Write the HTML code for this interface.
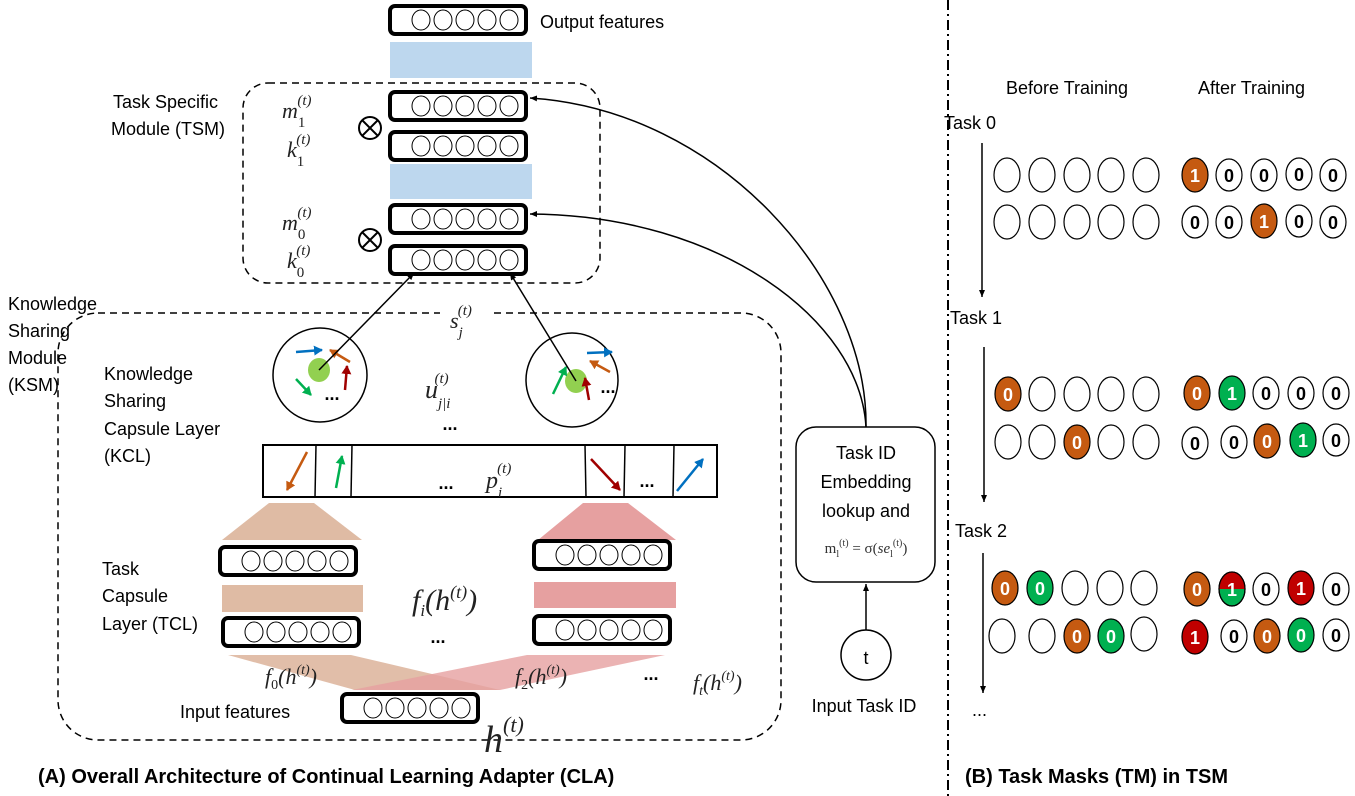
<!DOCTYPE html>
<html><head><meta charset="utf-8"><style>
html,body{margin:0;padding:0;background:#fff}
svg{display:block}
.t{font-family:"Liberation Sans",sans-serif;font-size:18px;fill:#000}
.m{font-family:"Liberation Serif",serif;font-style:italic;fill:#222}
.up{font-style:normal}
.cap{font-family:"Liberation Sans",sans-serif;font-size:20px;font-weight:bold}
.n{font-family:"Liberation Sans",sans-serif;font-weight:bold;font-size:18px;text-anchor:middle}
</style></head><body>
<svg width="1355" height="796" viewBox="0 0 1355 796" xmlns="http://www.w3.org/2000/svg">
<defs>
<marker id="ah" markerWidth="8" markerHeight="8" refX="7" refY="4" orient="auto" markerUnits="userSpaceOnUse"><path d="M0,1 L7,4 L0,7 z" fill="#000"/></marker>
<marker id="aO" markerWidth="10" markerHeight="10" refX="8" refY="5" orient="auto" markerUnits="userSpaceOnUse"><path d="M0,0 L9,5 L0,10 z" fill="#c55a11"/></marker>
<marker id="aG" markerWidth="10" markerHeight="10" refX="8" refY="5" orient="auto" markerUnits="userSpaceOnUse"><path d="M0,0 L9,5 L0,10 z" fill="#00b050"/></marker>
<marker id="aR" markerWidth="10" markerHeight="10" refX="8" refY="5" orient="auto" markerUnits="userSpaceOnUse"><path d="M0,0 L9,5 L0,10 z" fill="#a00000"/></marker>
<marker id="aB" markerWidth="10" markerHeight="10" refX="8" refY="5" orient="auto" markerUnits="userSpaceOnUse"><path d="M0,0 L9,5 L0,10 z" fill="#0070c0"/></marker>
<g id="fb">
<rect x="2" y="2" width="136" height="28" rx="5" fill="#fff" stroke="#000" stroke-width="4"/>
<ellipse cx="33" cy="16" rx="9" ry="10" fill="none" stroke="#000"/>
<ellipse cx="55" cy="16" rx="9" ry="10" fill="none" stroke="#000"/>
<ellipse cx="77" cy="16" rx="9" ry="10" fill="none" stroke="#000"/>
<ellipse cx="99" cy="16" rx="9" ry="10" fill="none" stroke="#000"/>
<ellipse cx="121" cy="16" rx="9" ry="10" fill="none" stroke="#000"/>
</g>
</defs>

<!-- TSM -->
<rect x="243" y="83" width="357" height="200" rx="25" fill="none" stroke="#000" stroke-width="1.5" stroke-dasharray="7,5"/>
<rect x="390" y="42" width="142" height="36" fill="#bdd7ee"/>
<rect x="390" y="164" width="142" height="35" fill="#bdd7ee"/>
<use href="#fb" x="388" y="4"/>
<use href="#fb" x="388" y="90"/>
<use href="#fb" x="388" y="130"/>
<use href="#fb" x="388" y="203"/>
<use href="#fb" x="388" y="244"/>
<text class="t" x="540" y="28">Output features</text>
<text class="t" x="113" y="108">Task Specific</text>
<text class="t" x="111" y="135">Module (TSM)</text>
<g stroke="#000" stroke-width="2" fill="none">
<circle cx="370" cy="128" r="11"/><path d="M362,120 L378,136 M378,120 L362,136"/>
<circle cx="370" cy="240" r="11"/><path d="M362,232 L378,248 M378,232 L362,248"/>
</g>
<text class="m" x="282" y="118" font-size="22">m<tspan class="up" font-size="15" dy="9">1</tspan><tspan font-size="15" dx="-8" dy="-22">(t)</tspan></text>
<text class="m" x="287" y="157" font-size="22">k<tspan class="up" font-size="15" dy="9">1</tspan><tspan font-size="15" dx="-8" dy="-22">(t)</tspan></text>
<text class="m" x="282" y="230" font-size="22">m<tspan class="up" font-size="15" dy="9">0</tspan><tspan font-size="15" dx="-8" dy="-22">(t)</tspan></text>
<text class="m" x="287" y="268" font-size="22">k<tspan class="up" font-size="15" dy="9">0</tspan><tspan font-size="15" dx="-8" dy="-22">(t)</tspan></text>

<!-- KSM -->
<rect x="58" y="313" width="723" height="427" rx="40" fill="none" stroke="#000" stroke-width="1.5" stroke-dasharray="7,5"/>
<rect x="440" y="300" width="50" height="30" fill="#fff"/>
<text class="t" x="8" y="310">Knowledge</text>
<text class="t" x="8" y="337">Sharing</text>
<text class="t" x="8" y="364">Module</text>
<text class="t" x="8" y="391">(KSM)</text>
<text class="t" x="104" y="380">Knowledge</text>
<text class="t" x="104" y="407">Sharing</text>
<text class="t" x="104" y="435">Capsule Layer</text>
<text class="t" x="104" y="462">(KCL)</text>
<text class="t" x="102" y="575">Task</text>
<text class="t" x="102" y="602">Capsule</text>
<text class="t" x="102" y="630">Layer (TCL)</text>

<ellipse cx="320" cy="375" rx="47" ry="47" fill="none" stroke="#000" stroke-width="1.5"/>
<ellipse cx="572" cy="380" rx="46" ry="47" fill="none" stroke="#000" stroke-width="1.5"/>
<ellipse cx="319" cy="370" rx="11" ry="12" fill="#92d050"/>
<ellipse cx="576" cy="381" rx="11" ry="12" fill="#92d050"/>
<g stroke-width="2.5" fill="none">
<line x1="296" y1="352" x2="322" y2="350" stroke="#0070c0" marker-end="url(#aB)"/>
<line x1="350" y1="362" x2="330" y2="350" stroke="#c55a11" marker-end="url(#aO)"/>
<line x1="296" y1="379" x2="311" y2="395" stroke="#00b050" marker-end="url(#aG)"/>
<line x1="345" y1="390" x2="347" y2="366" stroke="#a00000" marker-end="url(#aR)"/>
<line x1="553" y1="394" x2="566" y2="367" stroke="#00b050" marker-end="url(#aG)"/>
<line x1="587" y1="353" x2="612" y2="352" stroke="#0070c0" marker-end="url(#aB)"/>
<line x1="610" y1="372" x2="590" y2="361" stroke="#c55a11" marker-end="url(#aO)"/>
<line x1="589" y1="400" x2="585" y2="378" stroke="#a00000" marker-end="url(#aR)"/>
</g>
<text class="n" x="332" y="400" font-size="16">...</text>
<text class="n" x="608" y="393" font-size="16">...</text>
<line x1="319" y1="370" x2="414" y2="273" stroke="#000" stroke-width="1.5" marker-end="url(#ah)"/>
<line x1="576" y1="381" x2="510" y2="273" stroke="#000" stroke-width="1.5" marker-end="url(#ah)"/>
<text class="m" x="450" y="328" font-size="22">s<tspan font-size="15" dy="9">j</tspan><tspan font-size="15" dx="-5" dy="-22">(t)</tspan></text>
<text class="m" x="425" y="398" font-size="26">u<tspan font-size="15" dy="10">j|i</tspan><tspan font-size="15" dx="-16" dy="-25">(t)</tspan></text>
<text class="n" x="450" y="430" font-size="16">...</text>

<rect x="263" y="445" width="454" height="52" fill="#fff" stroke="#000" stroke-width="2"/>
<g stroke="#000" stroke-width="1.5"><line x1="316" y1="445" x2="315" y2="497"/><line x1="352" y1="445" x2="351" y2="497"/><line x1="585" y1="445" x2="586" y2="497"/><line x1="625" y1="445" x2="624" y2="497"/><line x1="674" y1="445" x2="673" y2="497"/></g>
<g stroke-width="2.5" fill="none">
<line x1="307" y1="452" x2="287" y2="490" stroke="#c55a11" marker-end="url(#aO)"/>
<line x1="336" y1="488" x2="342" y2="456" stroke="#00b050" marker-end="url(#aG)"/>
<line x1="591" y1="459" x2="620" y2="490" stroke="#a00000" marker-end="url(#aR)"/>
<line x1="677" y1="491" x2="703" y2="459" stroke="#0070c0" marker-end="url(#aB)"/>
</g>
<text class="n" x="446" y="489" font-size="16">...</text>
<text class="n" x="647" y="487" font-size="16">...</text>
<text class="m" x="486" y="488" font-size="24">p<tspan font-size="15" dy="9">i</tspan><tspan font-size="15" dx="-5" dy="-24">(t)</tspan></text>

<polygon points="269,503 314,503 362,540 222,540" fill="#dfbba4"/>
<polygon points="583,503 628,503 676,540 538,540" fill="#e6a0a0"/>
<rect x="222" y="585" width="141" height="27" fill="#dfbba4"/>
<rect x="534" y="582" width="142" height="26" fill="#e6a0a0"/>
<use href="#fb" x="218" y="545"/>
<use href="#fb" x="221" y="616"/>
<use href="#fb" x="532" y="539"/>
<use href="#fb" x="532" y="614"/>

<polygon points="228,655 351,655 500,690 355,690" fill="#dfbba4" opacity="0.95"/>
<polygon points="527,655 665,655 500,690 352,690" fill="#e6a0a0" opacity="0.8"/>
<use href="#fb" x="340" y="692"/>
<text class="t" x="180" y="718">Input features</text>
<text class="m" x="484" y="752" font-size="38">h<tspan font-size="22" dy="-20">(t)</tspan></text>
<text class="m" x="412" y="610" font-size="30">f<tspan font-size="17" dy="6">i</tspan><tspan dy="-6">(h</tspan><tspan font-size="18" dy="-12">(t)</tspan><tspan dy="12">)</tspan></text>
<text class="n" x="438" y="643" font-size="16">...</text>
<text class="m" x="265" y="684" font-size="22">f<tspan class="up" font-size="14" dy="5">0</tspan><tspan dy="-5">(h</tspan><tspan font-size="14" dy="-10">(t)</tspan><tspan dy="10">)</tspan></text>
<text class="m" x="515" y="684" font-size="22">f<tspan class="up" font-size="14" dy="5">2</tspan><tspan dy="-5">(h</tspan><tspan font-size="14" dy="-10">(t)</tspan><tspan dy="10">)</tspan></text>
<text class="n" x="651" y="680" font-size="16">...</text>
<text class="m" x="693" y="690" font-size="22">f<tspan font-size="14" dy="5">t</tspan><tspan dy="-5">(h</tspan><tspan font-size="14" dy="-10">(t)</tspan><tspan dy="10">)</tspan></text>

<!-- Task ID -->
<path d="M866,427 C868,280 720,110 530,98" fill="none" stroke="#000" stroke-width="1.5" marker-end="url(#ah)"/>
<path d="M866,427 C860,320 720,215 530,214" fill="none" stroke="#000" stroke-width="1.5" marker-end="url(#ah)"/>
<rect x="796" y="427" width="139" height="155" rx="20" fill="#fff" stroke="#000" stroke-width="1.5"/>
<text class="t" x="866" y="459" text-anchor="middle">Task ID</text>
<text class="t" x="866" y="488" text-anchor="middle">Embedding</text>
<text class="t" x="866" y="517" text-anchor="middle">lookup and</text>
<text x="866" y="553" text-anchor="middle" font-family="Liberation Serif,serif" font-size="15" fill="#333">m<tspan font-size="10" dy="4">l</tspan><tspan font-size="10" dy="-11">(t)</tspan><tspan dy="7"> = σ(</tspan><tspan font-style="italic">se</tspan><tspan font-size="10" dy="4">l</tspan><tspan font-size="10" dy="-11">(t)</tspan><tspan dy="7">)</tspan></text>
<line x1="866" y1="630" x2="866" y2="584" stroke="#000" stroke-width="1.5" marker-end="url(#ah)"/>
<circle cx="866" cy="655" r="25" fill="#fff" stroke="#000" stroke-width="1.5"/>
<text class="t" x="866" y="664" text-anchor="middle" font-size="24">t</text>
<text class="t" x="864" y="712" text-anchor="middle">Input Task ID</text>

<line x1="948" y1="0" x2="948" y2="796" stroke="#000" stroke-width="2" stroke-dasharray="10,4,2,4"/>

<text class="cap" x="38" y="783">(A) Overall Architecture of Continual Learning Adapter (CLA)</text>
<text class="cap" x="965" y="783">(B) Task Masks (TM) in TSM</text>

<!-- Right panel -->
<text class="t" x="1006" y="94">Before Training</text>
<text class="t" x="1198" y="94">After Training</text>
<text class="t" x="944" y="129">Task 0</text>
<text class="t" x="950" y="324">Task 1</text>
<text class="t" x="955" y="537">Task 2</text>
<text class="t" x="972" y="716">...</text>
<line x1="982" y1="143" x2="982" y2="297" stroke="#000" stroke-width="1.5" marker-end="url(#ah)"/>
<line x1="984" y1="347" x2="984" y2="502" stroke="#000" stroke-width="1.5" marker-end="url(#ah)"/>
<line x1="983" y1="553" x2="983" y2="693" stroke="#000" stroke-width="1.5" marker-end="url(#ah)"/>

<g stroke="#000" stroke-width="1.2">
<g fill="none">
<ellipse cx="1007" cy="175" rx="13" ry="17"/><ellipse cx="1042" cy="175" rx="13" ry="17"/><ellipse cx="1077" cy="175" rx="13" ry="17"/><ellipse cx="1111" cy="175" rx="13" ry="17"/><ellipse cx="1146" cy="175" rx="13" ry="17"/>
<ellipse cx="1007" cy="222" rx="13" ry="17"/><ellipse cx="1042" cy="222" rx="13" ry="17"/><ellipse cx="1077" cy="222" rx="13" ry="17"/><ellipse cx="1111" cy="222" rx="13" ry="17"/><ellipse cx="1146" cy="222" rx="13" ry="17"/>
<ellipse cx="1042" cy="394" rx="13" ry="17"/><ellipse cx="1077" cy="394" rx="13" ry="17"/><ellipse cx="1111" cy="394" rx="13" ry="17"/><ellipse cx="1146" cy="394" rx="13" ry="17"/>
<ellipse cx="1008" cy="442" rx="13" ry="17"/><ellipse cx="1042" cy="442" rx="13" ry="17"/><ellipse cx="1111" cy="442" rx="13" ry="17"/><ellipse cx="1146" cy="442" rx="13" ry="17"/>
<ellipse cx="1075" cy="588" rx="13" ry="17"/><ellipse cx="1110" cy="588" rx="13" ry="17"/><ellipse cx="1144" cy="588" rx="13" ry="17"/>
<ellipse cx="1002" cy="636" rx="13" ry="17"/><ellipse cx="1042" cy="636" rx="13" ry="17"/><ellipse cx="1144" cy="634" rx="13" ry="17"/>
</g>
<ellipse cx="1008" cy="394" rx="13" ry="17" fill="#c55a11"/>
<ellipse cx="1077" cy="442" rx="13" ry="17" fill="#c55a11"/>
<ellipse cx="1005" cy="588" rx="13" ry="17" fill="#c55a11"/>
<ellipse cx="1040" cy="588" rx="13" ry="17" fill="#00b050"/>
<ellipse cx="1077" cy="636" rx="13" ry="17" fill="#c55a11"/>
<ellipse cx="1111" cy="636" rx="13" ry="17" fill="#00b050"/>
</g>
<g fill="#fff">
<text class="n" x="1008" y="401">0</text><text class="n" x="1077" y="449">0</text>
<text class="n" x="1005" y="595">0</text><text class="n" x="1040" y="595">0</text>
<text class="n" x="1077" y="643">0</text><text class="n" x="1111" y="643">0</text>
</g>

<g stroke="#000" stroke-width="1.2">
<ellipse cx="1195" cy="175" rx="13" ry="17" fill="#c55a11"/>
<ellipse cx="1229" cy="175" rx="13" ry="16" fill="#fff"/><ellipse cx="1264" cy="175" rx="13" ry="16" fill="#fff"/><ellipse cx="1299" cy="174" rx="13" ry="16" fill="#fff"/><ellipse cx="1333" cy="175" rx="13" ry="16" fill="#fff"/>
<ellipse cx="1195" cy="222" rx="13" ry="16" fill="#fff"/><ellipse cx="1229" cy="222" rx="13" ry="16" fill="#fff"/>
<ellipse cx="1264" cy="221" rx="13" ry="17" fill="#c55a11"/>
<ellipse cx="1299" cy="221" rx="13" ry="16" fill="#fff"/><ellipse cx="1333" cy="222" rx="13" ry="16" fill="#fff"/>
<ellipse cx="1197" cy="393" rx="13" ry="17" fill="#c55a11"/>
<ellipse cx="1232" cy="393" rx="13" ry="17" fill="#00b050"/>
<ellipse cx="1266" cy="393" rx="13" ry="16" fill="#fff"/><ellipse cx="1301" cy="393" rx="13" ry="16" fill="#fff"/><ellipse cx="1336" cy="393" rx="13" ry="16" fill="#fff"/>
<ellipse cx="1195" cy="443" rx="13" ry="16" fill="#fff"/><ellipse cx="1234" cy="442" rx="13" ry="16" fill="#fff"/>
<ellipse cx="1267" cy="441" rx="13" ry="17" fill="#c55a11"/>
<ellipse cx="1303" cy="440" rx="13" ry="17" fill="#00b050"/>
<ellipse cx="1336" cy="440" rx="13" ry="16" fill="#fff"/>
<ellipse cx="1197" cy="589" rx="13" ry="17" fill="#c55a11"/>
<ellipse cx="1232" cy="589" rx="13" ry="17" fill="#00b050"/>
<path d="M1219,589 A13,17 0 0 1 1245,589 Z" fill="#c00000" stroke="none"/>
<ellipse cx="1232" cy="589" rx="13" ry="17" fill="none"/>
<ellipse cx="1266" cy="589" rx="13" ry="16" fill="#fff"/>
<ellipse cx="1301" cy="588" rx="13" ry="17" fill="#c00000"/>
<ellipse cx="1336" cy="589" rx="13" ry="16" fill="#fff"/>
<ellipse cx="1195" cy="637" rx="13" ry="17" fill="#c00000"/>
<ellipse cx="1234" cy="636" rx="13" ry="16" fill="#fff"/>
<ellipse cx="1267" cy="636" rx="13" ry="17" fill="#c55a11"/>
<ellipse cx="1301" cy="635" rx="13" ry="17" fill="#00b050"/>
<ellipse cx="1336" cy="635" rx="13" ry="16" fill="#fff"/>
</g>
<g font-size="20">
<text class="n" x="1195" y="182" fill="#fff">1</text><text class="n" x="1229" y="182">0</text><text class="n" x="1264" y="182">0</text><text class="n" x="1299" y="181">0</text><text class="n" x="1333" y="182">0</text>
<text class="n" x="1195" y="229">0</text><text class="n" x="1229" y="229">0</text><text class="n" x="1264" y="228" fill="#fff">1</text><text class="n" x="1299" y="228">0</text><text class="n" x="1333" y="229">0</text>
<text class="n" x="1197" y="400" fill="#fff">0</text><text class="n" x="1232" y="400" fill="#fff">1</text><text class="n" x="1266" y="400">0</text><text class="n" x="1301" y="400">0</text><text class="n" x="1336" y="400">0</text>
<text class="n" x="1195" y="450">0</text><text class="n" x="1234" y="449">0</text><text class="n" x="1267" y="448" fill="#fff">0</text><text class="n" x="1303" y="447" fill="#fff">1</text><text class="n" x="1336" y="447">0</text>
<text class="n" x="1197" y="596" fill="#fff">0</text><text class="n" x="1232" y="596" fill="#fff">1</text><text class="n" x="1266" y="596">0</text><text class="n" x="1301" y="595" fill="#fff">1</text><text class="n" x="1336" y="596">0</text>
<text class="n" x="1195" y="644" fill="#fff">1</text><text class="n" x="1234" y="643">0</text><text class="n" x="1267" y="643" fill="#fff">0</text><text class="n" x="1301" y="642" fill="#fff">0</text><text class="n" x="1336" y="642">0</text>
</g>
</svg>
</body></html>
